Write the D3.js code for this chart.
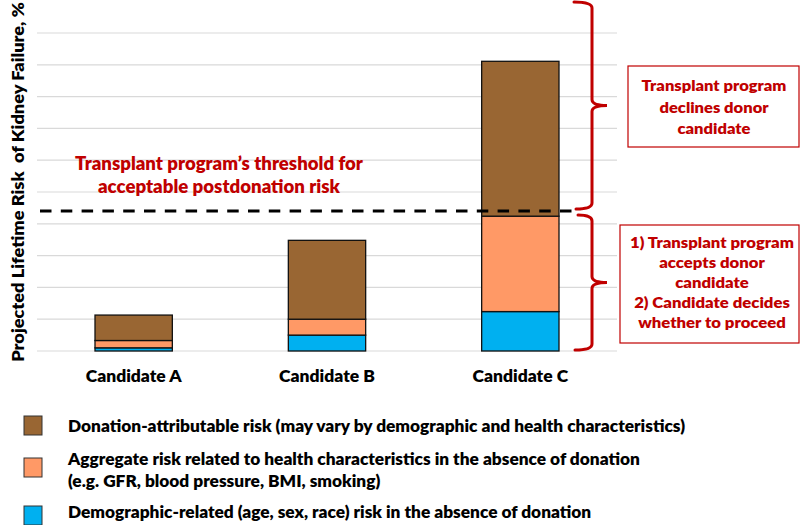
<!DOCTYPE html>
<html>
<head>
<meta charset="utf-8">
<script src="https://cdn.jsdelivr.net/npm/d3@7"></script>
<style>
  body { margin: 0; background: #fff; }
  svg { display: block; font-family: Lato, "Open Sans", sans-serif; font-weight: 800; }
</style>
</head>
<body>
<svg id="chart" width="800" height="525"></svg>
<script>
// ---- data ----
const categories = ["Candidate A", "Candidate B", "Candidate C"];
const demographicRisk = [0.10, 0.50, 1.24];
const healthRisk = [0.23, 0.50, 3.00];
const donationRisk = [0.80, 2.48, 4.87];
const threshold = 4.4;
const yTicks = [0, 1, 2, 3, 4, 5, 6, 7, 8, 9, 10];
const seriesKeys = ["demographic", "health", "donation"];
const seriesColors = ["#00B0F0", "#FF9966", "#996633"];
const legendLabels = [
  ["Donation-attributable risk (may vary by demographic and health characteristics)"],
  ["Aggregate risk related to health characteristics in the absence of donation", "(e.g. GFR, blood pressure, BMI, smoking)"],
  ["Demographic-related (age, sex, race) risk in the absence of donation"]
];
const legendKeys = ["donation", "health", "demographic"];
const thresholdText = ["Transplant program\u2019s threshold for", "acceptable postdonation risk"];
const declineText = ["Transplant program", "declines donor", "candidate"];
const acceptText = ["1) Transplant program", "accepts donor", "candidate", "2) Candidate decides", "whether to proceed"];
const yTitle = "Projected Lifetime Risk  of Kidney Failure, %";

const RED = "#C00000";
const svg = d3.select("#chart");

const table = categories.map((c, i) => ({
  cat: c, demographic: demographicRisk[i], health: healthRisk[i], donation: donationRisk[i]
}));
const stacked = d3.stack().keys(seriesKeys)(table);
const color = d3.scaleOrdinal().domain(seriesKeys).range(seriesColors);

const x = d3.scaleBand().domain(categories).range([37, 617]).paddingInner(0.6).paddingOuter(0.3);
const y = d3.scaleLinear().domain([0, 10]).range([351, 33]);

// Place a group of text lines with a fixed font size and a horizontal squeeze
// so that line refIdx spans the given width (Calibri-like proportions).
function textGroup(parent, items, opts) {
  const g = parent.append("g");
  const sel = g.selectAll("text").data(items).join("text")
    .attr("text-anchor", opts.anchor || "middle")
    .attr("fill", opts.fill || "#000")
    .style("font-size", opts.size + "px")
    .attr("xml:space", "preserve")
    .text(d => d.t);
  const w = sel.filter((d, i) => i === (opts.refIdx || 0)).node().getComputedTextLength();
  const sx = opts.width / w;
  sel.attr("transform", d => `translate(${d.x},${d.y}) ${opts.rotate ? "rotate(" + opts.rotate + ")" : ""} scale(${sx},1)`);
  return sel;
}

// gridlines
svg.append("g").selectAll("line").data(yTicks).join("line")
  .attr("x1", 37).attr("x2", 617)
  .attr("y1", d => y(d)).attr("y2", d => y(d))
  .attr("stroke", "#d9d9d9").attr("stroke-width", 1.2);

// bars
svg.append("g").selectAll("g").data(stacked).join("g")
  .attr("fill", d => color(d.key))
  .selectAll("rect").data(d => d).join("rect")
  .attr("x", d => x(d.data.cat))
  .attr("width", x.bandwidth())
  .attr("y", d => y(d[1]))
  .attr("height", d => y(d[0]) - y(d[1]))
  .attr("stroke", "#111").attr("stroke-width", 1.3);

// category labels
textGroup(svg, categories.map(c => ({ t: c, x: x(c) + x.bandwidth() / 2, y: 382 })),
  { size: 17.5, width: 96 });

// y axis title
textGroup(svg, [{ t: yTitle, x: 24, y: 182 }], { size: 17, width: 360, rotate: -90 });

// threshold dashed line
svg.append("line")
  .attr("x1", 40).attr("x2", 576)
  .attr("y1", y(threshold)).attr("y2", y(threshold))
  .attr("stroke", "#000").attr("stroke-width", 3)
  .attr("stroke-dasharray", "11.5,9.3");

// threshold text
textGroup(svg, thresholdText.map((t, i) => ({ t, x: 219, y: 170 + i * 23 })),
  { size: 18.5, width: 288, fill: RED });

// braces
function brace(xv, y0, y1, hook0, hook1, tip) {
  const ym = (y0 + y1) / 2;
  const r = 6;
  return `M${hook0},${y0} Q${xv},${y0} ${xv},${y0 + r}` +
    ` L${xv},${ym - r} Q${xv},${ym} ${tip},${ym}` +
    ` Q${xv},${ym} ${xv},${ym + r}` +
    ` L${xv},${y1 - r} Q${xv},${y1} ${hook1},${y1}`;
}
const braceG = svg.append("g").attr("fill", "none").attr("stroke", RED)
  .attr("stroke-width", 3).attr("stroke-linecap", "round");
braceG.append("path").attr("d", brace(592, 2, y(threshold) - 2, 574, 576, 607));
braceG.append("path").attr("d", brace(592, y(threshold) + 4, 350, 578, 575, 607));

// boxes
svg.append("rect").attr("x", 628).attr("y", 66).attr("width", 171).attr("height", 81)
  .attr("fill", "#fff").attr("stroke", RED).attr("stroke-width", 1.2);
svg.append("rect").attr("x", 620).attr("y", 225).attr("width", 179).attr("height", 118)
  .attr("fill", "#fff").attr("stroke", RED).attr("stroke-width", 1.2);

textGroup(svg, declineText.map((t, i) => ({ t, x: 714, y: 91 + i * 21.5 })),
  { size: 15.5, width: 145, fill: RED });
textGroup(svg, acceptText.map((t, i) => ({ t, x: 712, y: 248 + i * 20 })),
  { size: 15.5, width: 164, fill: RED });

// legend
const legendSquareY = [416, 458, 506];
const legendTextY = [[432], [465, 487], [518]];
const lg = svg.append("g");
legendKeys.forEach((k, i) => {
  lg.append("rect").attr("x", 24).attr("y", legendSquareY[i])
    .attr("width", 18).attr("height", 19)
    .attr("fill", color(k)).attr("stroke", "#333").attr("stroke-width", 1);
});
const legendLines = [];
legendLabels.forEach((lines, i) => lines.forEach((t, j) => legendLines.push({ t, x: 68, y: legendTextY[i][j] })));
textGroup(lg, legendLines, { size: 16.3, width: 617, anchor: "start" });
</script>
</body>
</html>
